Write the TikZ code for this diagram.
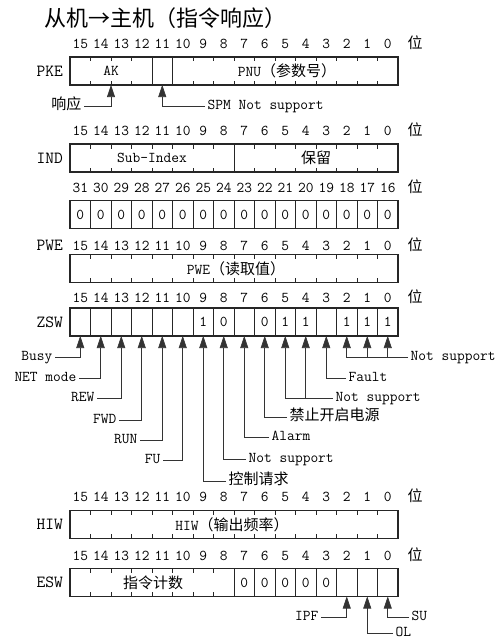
\documentclass[tikz,border=0pt]{standalone}
\usepackage{fontspec}
\newfontfamily\cjk{Noto Sans CJK SC}
\usetikzlibrary{arrows.meta}
\newcommand\bitnums[3]{%
  \foreach \b in {0,...,15}{%
    \pgfmathtruncatemacro\n{\b+#3}%
    \node[num] (#1-n\n) at ({70+(15.5-\b)*20.5},#2) {\n};}%
  \node[num] (#1-wei) at (415,#2) {\cjk 位};}
\newcommand\regticks[2]{\foreach \i in {#2}{\draw[div] ({70+\i*20.5},#1) -- ++(0,4.5) ({70+\i*20.5},#1+28) -- ++(0,-4.5);}}
\newcommand\regdivs[2]{\foreach \i in {#2}{\draw[div] ({70+\i*20.5},#1) -- ({70+\i*20.5},#1+28);}}
\newcommand\regframe[1]{\draw[frame] (70,#1) rectangle (398,#1+28);}
\begin{document}
\begin{tikzpicture}[x=1pt,y=-1pt,font=\fontsize{15}{17}\selectfont\ttfamily]
\tikzset{
  frame/.style={line width=1.4pt,draw=black!85},
  div/.style={line width=0.7pt,draw=black!85},
  num/.style={inner sep=0pt,text height=9pt,text depth=0pt},
  lbl/.style={inner sep=2.5pt,text height=9pt,text depth=2pt},
  reg/.style={anchor=east,inner sep=0pt,font=\fontsize{17}{19}\selectfont\ttfamily},
  arr/.style={-{Triangle[width=8pt,length=12pt]},line width=0.6pt,draw=black!80}
}
\useasboundingbox (0,0) rectangle (501,642);
\node (title) at (165,18) {\cjk\fontsize{22}{24}\selectfont 从机→主机（指令响应）};

% ---------- PKE ----------
\bitnums{pke}{44}{0}
\node[reg] (pke) at (63,71) {PKE};
\regticks{57}{1,2,3,6,7,8,9,10,11,12,13,14,15}
\regdivs{57}{4,5}
\regframe{57}
\node (ak) at (111,71) {AK};
\node (pnu) at (287,71) {PNU{\cjk （参数号）}};
\coordinate (pk-ak) at (111,85);
\coordinate (pk-spm) at (162.25,85);
\node[lbl,anchor=east] (xiangying) at (84,106) {\cjk 响应};
\node[lbl,anchor=west] (spm) at (205,106) {SPM Not support};
\draw[arr] (xiangying.east) -| (pk-ak);
\draw[arr] (spm.west) -| (pk-spm);

% ---------- IND ----------
\bitnums{ind}{130.5}{0}
\node[reg] (ind) at (63,158) {IND};
\regticks{144}{1,2,3,4,5,6,7,9,10,11,12,13,14,15}
\regdivs{144}{8}
\regframe{144}
\node (subidx) at (152,158) {Sub-Index};
\node (baoliu) at (316,158) {\cjk 保留};

% ---------- bits 31..16 ----------
\bitnums{hi}{187.5}{16}
\regdivs{200.5}{1,2,3,4,5,6,7,8,9,10,11,12,13,14,15}
\regframe{200.5}
\foreach \b in {0,...,15}{\node (hi-v\b) at ({70+(15.5-\b)*20.5},214.5) {0};}

% ---------- PWE ----------
\bitnums{pwe}{245.5}{0}
\node[reg] (pwe) at (63,245.5) {PWE};
\regticks{254.5}{1,2,3,4,5,6,7,8,9,10,11,12,13,14,15}
\regframe{254.5}
\node (pweval) at (236,268.5) {PWE{\cjk （读取值）}};

% ---------- ZSW ----------
\bitnums{zsw}{298}{0}
\node[reg] (zsw) at (63,322) {ZSW};
\regdivs{308}{1,2,3,4,5,6,7,8,9,10,11,12,13,14,15}
\regframe{308}
\foreach \b/\v in {9/1,8/0,6/0,5/1,4/1,2/1,1/1,0/1}{\node (zsw-v\b) at ({70+(15.5-\b)*20.5},322) {\v};}
\foreach \b in {0,...,15}{\coordinate (z\b) at ({70+(15.5-\b)*20.5},336);}

\node[lbl,anchor=east] (busy) at (55,357) {Busy};
\node[lbl,anchor=east] (netmode) at (79,378) {NET mode};
\node[lbl,anchor=east] (rew) at (97,398) {REW};
\node[lbl,anchor=east] (fwd) at (119,420) {FWD};
\node[lbl,anchor=east] (run) at (140,440) {RUN};
\node[lbl,anchor=east] (fu) at (163,460) {FU};
\node[lbl,anchor=west] (kongzhi) at (226,481) {\cjk 控制请求};
\node[lbl,anchor=west] (ns8) at (246,459) {Not support};
\node[lbl,anchor=west] (alarm) at (269,437) {Alarm};
\node[lbl,anchor=west] (jinzhi) at (287,417) {\cjk 禁止开启电源};
\node[lbl,anchor=west] (ns54) at (333,398) {Not support};
\node[lbl,anchor=west] (fault) at (346,378) {Fault};
\node[lbl,anchor=west] (ns210) at (408,357) {Not support};

\draw[arr] (busy.east) -| (z15);
\draw[arr] (netmode.east) -| (z14);
\draw[arr] (rew.east) -| (z13);
\draw[arr] (fwd.east) -| (z12);
\draw[arr] (run.east) -| (z11);
\draw[arr] (fu.east) -| (z10);
\draw[arr] (kongzhi.west) -| (z9);
\draw[arr] (ns8.west) -| (z8);
\draw[arr] (alarm.west) -| (z7);
\draw[arr] (jinzhi.west) -| (z6);
\draw[arr] (ns54.west) -| (z5);
\draw[arr] (z4 |- ns54.west) -- (z4);
\draw[arr] (fault.west) -| (z3);
\draw[arr] (ns210.west) -| (z2);
\draw[arr] (z1 |- ns210.west) -- (z1);
\draw[arr] (z0 |- ns210.west) -- (z0);

% ---------- HIW ----------
\bitnums{hiw}{497}{0}
\node[reg] (hiw) at (63,524.5) {HIW};
\regticks{510.5}{1,2,3,4,5,6,7,8,9,10,11,12,13,14,15}
\regframe{510.5}
\node (hiwval) at (232,524.5) {HIW{\cjk （输出频率）}};

% ---------- ESW ----------
\bitnums{esw}{555.5}{0}
\node[reg] (esw) at (63,582.5) {ESW};
\regticks{568.5}{1,2,3,4,5,6,7}
\regdivs{568.5}{8,9,10,11,12,13,14,15}
\regframe{568.5}
\node (cmdcnt) at (153,582.5) {\cjk 指令计数};
\foreach \b in {3,...,7}{\node (esw-v\b) at ({70+(15.5-\b)*20.5},582.5) {0};}
\foreach \b in {0,1,2}{\coordinate (e\b) at ({70+(15.5-\b)*20.5},596.5);}
\node[lbl,anchor=east] (ipf) at (321,617) {IPF};
\node[lbl,anchor=west] (su) at (409,617) {SU};
\node[lbl,anchor=west] (ol) at (393,633) {OL};
\draw[arr] (ipf.east) -| (e2);
\draw[arr] (su.west) -| (e0);
\draw[arr] (ol.west) -| (e1);
\end{tikzpicture}
\end{document}
